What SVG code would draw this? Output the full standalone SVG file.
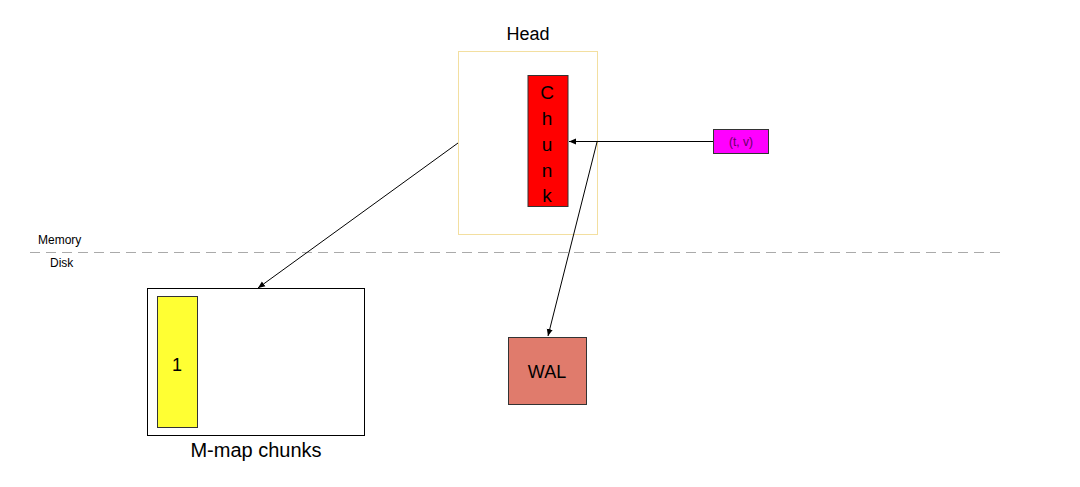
<svg xmlns="http://www.w3.org/2000/svg" width="1080" height="487" viewBox="0 0 1080 487">
<style>
text{font-family:"Liberation Sans",Arial,sans-serif;fill:#000}
.ln{stroke:#000;stroke-width:1;fill:none}
</style>
<defs><marker id="a" markerWidth="8" markerHeight="8" refX="7" refY="4" orient="auto" markerUnits="userSpaceOnUse"><path d="M0,1 L7,4 L0,7 z" fill="#000"/></marker></defs>
<rect width="1080" height="487" fill="#fff"/>
<g id="head"><rect x="458.5" y="51.5" width="139" height="183" fill="none" stroke="#f3dfa0"/><text x="528" y="40" font-size="18" text-anchor="middle">Head</text></g>
<g id="chunk"><rect x="528" y="75.5" width="40" height="131" fill="#f00" stroke="#333"/>
<g font-size="19" text-anchor="middle" style="fill:#600"><text x="547" y="99">C</text><text x="547" y="125">h</text><text x="547" y="151">u</text><text x="547" y="177">n</text><text x="547" y="202">k</text></g></g>
<g id="tv"><rect x="713.5" y="129.5" width="55" height="24" fill="#f0f" stroke="#333"/><text x="741" y="146" font-size="12" text-anchor="middle" style="fill:#606">(t, v)</text></g>
<g id="mmap"><rect x="147.5" y="288.5" width="217" height="147" fill="#fff" stroke="#000"/><rect x="157.5" y="296.5" width="40" height="131" fill="#ff3" stroke="#333"/><text x="177" y="371" font-size="18" text-anchor="middle">1</text><text x="256" y="457" font-size="20" text-anchor="middle">M-map chunks</text></g>
<g id="wal"><rect x="508.5" y="337.5" width="78" height="67" fill="#e07b6c" stroke="#333"/><text x="547" y="378" font-size="18" text-anchor="middle">WAL</text></g>
<g id="labels"><text x="38" y="244" font-size="12">Memory</text><text x="50" y="267" font-size="12">Disk</text></g>
<g id="connectors">
<line x1="30" y1="252.5" x2="1000" y2="252.5" stroke="#aaa" stroke-dasharray="10,6"/>
<line class="ln" x1="713" y1="141.5" x2="569" y2="141.5" marker-end="url(#a)"/>
<line class="ln" x1="597" y1="142" x2="548" y2="336" marker-end="url(#a)"/>
<line class="ln" x1="458" y1="143" x2="258" y2="288" marker-end="url(#a)"/>
</g>
</svg>
